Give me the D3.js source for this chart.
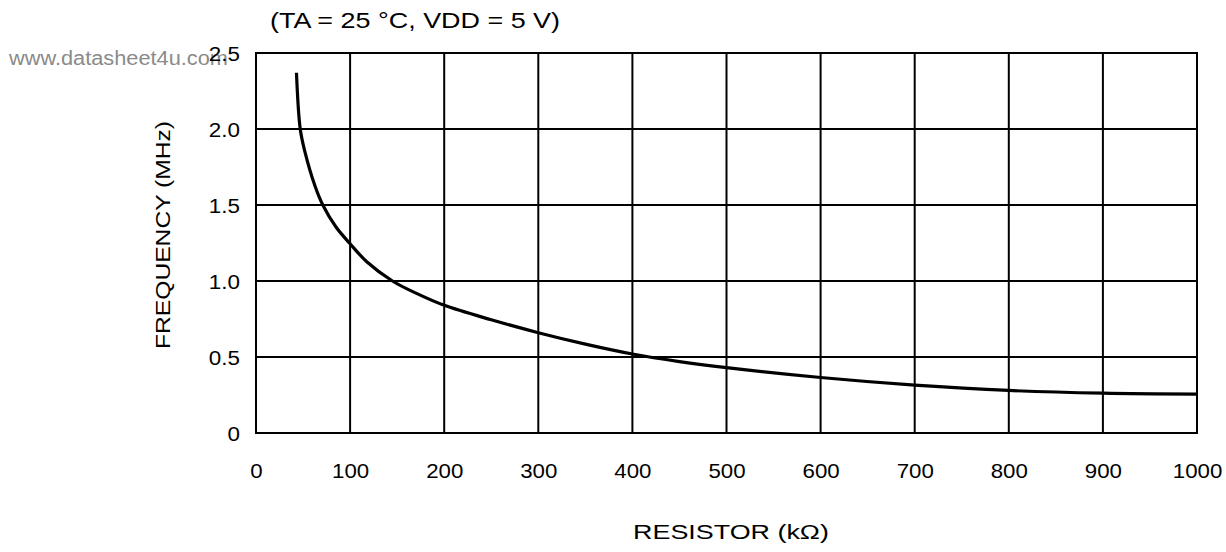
<!DOCTYPE html>
<html><head><meta charset="utf-8">
<script src="https://cdn.jsdelivr.net/npm/d3@7"></script>
<style>
html,body{margin:0;padding:0;background:#fff;}
svg{display:block;font-family:"Liberation Sans",Arial,sans-serif;}
</style></head>
<body>
<svg id="chart" width="1226" height="552"></svg>
<script>
const resistorK = [43, 47, 52, 63, 71, 85, 100, 118, 145, 170, 200, 250, 300, 350, 400, 450, 500, 600, 700, 800, 900, 1000];
const freqMHz   = [2.37, 2.0, 1.85, 1.62, 1.5, 1.355, 1.245, 1.125, 1.0, 0.92, 0.84, 0.745, 0.66, 0.585, 0.52, 0.47, 0.43, 0.365, 0.315, 0.28, 0.262, 0.256];
const xTicks = [0, 100, 200, 300, 400, 500, 600, 700, 800, 900, 1000];
const yTicks = [0, 0.5, 1.0, 1.5, 2.0, 2.5];
const yTickLabels = ["0", "0.5", "1.0", "1.5", "2.0", "2.5"];
const titleText = "(TA = 25 °C, VDD = 5 V)";
const xTitle = "RESISTOR (kΩ)";
const yTitle = "FREQUENCY (MHz)";
const watermark = "www.datasheet4u.com";

const svg = d3.select("#chart");
const L = 256, R = 1197, T = 53, B = 433;
const x = d3.scaleLinear().domain([0, 1000]).range([L, R]);
const y = d3.scaleLinear().domain([0, 2.5]).range([B, T]);

function stretch(sel, factor) {
  sel.each(function() {
    const w = this.getComputedTextLength();
    d3.select(this).attr("textLength", w * factor).attr("lengthAdjust", "spacingAndGlyphs");
  });
}

// watermark (behind the axis labels)
svg.append("text").attr("x", 9).attr("y", 65).attr("font-size", 20).attr("fill", "#8a8a8a")
  .attr("textLength", 219).attr("lengthAdjust", "spacingAndGlyphs").text(watermark);

// grid
const g = svg.append("g");
g.selectAll("line.vg").data(xTicks).join("line")
  .attr("x1", d => x(d)).attr("x2", d => x(d))
  .attr("y1", T).attr("y2", B)
  .attr("stroke", "#000").attr("stroke-width", 2);
g.selectAll("line.hg").data(yTicks).join("line")
  .attr("y1", d => y(d)).attr("y2", d => y(d))
  .attr("x1", L - 1).attr("x2", R + 1)
  .attr("stroke", "#000").attr("stroke-width", 2);

// axes labels
const xAxis = d3.axisBottom(x).tickValues(xTicks).tickSize(0).tickPadding(0).tickFormat(d3.format("d"));
const xa = svg.append("g").attr("transform", `translate(0,${B + 45})`).call(xAxis);
xa.select(".domain").remove();
xa.selectAll("text").attr("font-size", 21).attr("font-family", "Liberation Sans, Arial, sans-serif")
  .attr("fill", "#000").attr("dy", 0).attr("y", 0);
stretch(xa.selectAll("text"), 1.06);

const yAxis = d3.axisLeft(y).tickValues(yTicks).tickSize(0).tickPadding(0)
  .tickFormat((d, i) => yTickLabels[i]);
const ya = svg.append("g").attr("transform", `translate(${L - 16},0)`).call(yAxis);
ya.select(".domain").remove();
ya.selectAll("text").attr("font-size", 20).attr("font-family", "Liberation Sans, Arial, sans-serif")
  .attr("fill", "#000").attr("dy", "0.36em");
stretch(ya.selectAll("text"), 1.12);

// curve
const data = resistorK.map((r, i) => ({r, f: freqMHz[i]}));
const line = d3.line().x(d => x(d.r)).y(d => y(d.f)).curve(d3.curveCatmullRom.alpha(0.5));
svg.append("path").datum(data).attr("d", line)
  .attr("fill", "none").attr("stroke", "#000").attr("stroke-width", 3.2)
  .attr("stroke-linecap", "butt").attr("stroke-linejoin", "round");

// texts
svg.append("text").attr("x", 270).attr("y", 28).attr("font-size", 22).attr("fill", "#000")
  .attr("textLength", 290).attr("lengthAdjust", "spacingAndGlyphs").text(titleText);
const t2 = svg.append("text").attr("x", 731).attr("y", 539).attr("text-anchor", "middle").attr("font-size", 21).attr("fill", "#000").text(xTitle);
stretch(t2, 1.28);
svg.append("text").attr("transform", `translate(170,235) rotate(-90)`).attr("text-anchor", "middle").attr("font-size", 21).attr("fill", "#000")
  .attr("textLength", 228).attr("lengthAdjust", "spacingAndGlyphs").text(yTitle);
</script>
</body></html>
